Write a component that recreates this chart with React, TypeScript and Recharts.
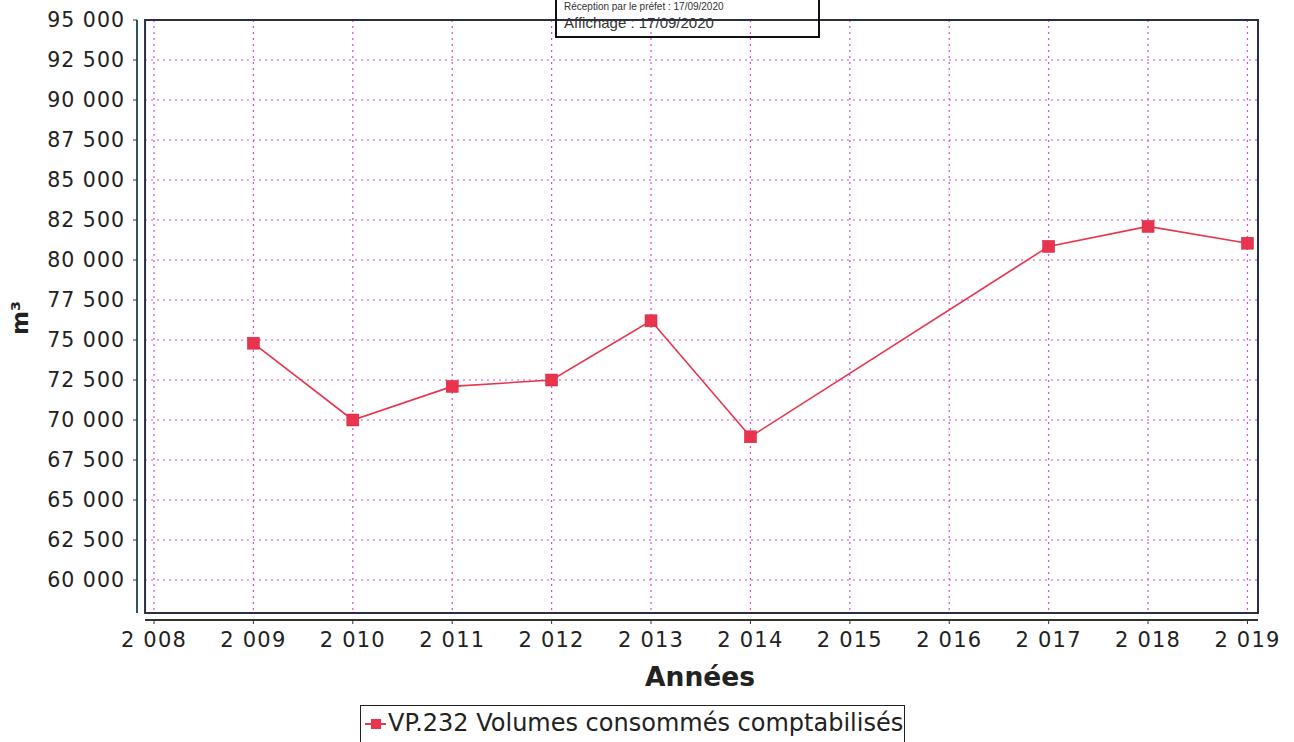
import React from 'react';
import {
  LineChart, Line, XAxis, YAxis, CartesianGrid, ReferenceArea, ReferenceLine,
} from 'recharts';

// values (2015 and 2016 are missing in the source)
const years = [2009, 2010, 2011, 2012, 2013, 2014, 2017, 2018, 2019];
const volumes = [74800, 70000, 72100, 72500, 76200, 68950, 80850, 82100, 81050];

const xTicks = [2008, 2009, 2010, 2011, 2012, 2013, 2014, 2015, 2016, 2017, 2018, 2019];
const yTicks = [60000, 62500, 65000, 67500, 70000, 72500, 75000, 77500, 80000, 82500, 85000, 87500, 90000, 92500, 95000];

const SERIES_NAME = 'VP.232 Volumes consommés comptabilisés';

const data = years.map((y, i) => ({ year: y, volume: volumes[i] }));

const X_DOMAIN: [number, number] = [2007.829, 2019.106];
const Y_DOMAIN: [number, number] = [57500, 95000];
const FRAME_X = 2007.91;
const FRAME_Y = 57940;

const FONT = '"DejaVu Sans", sans-serif';
const RED = '#e8344c';
const GRID = '#d24fd2';

// thousands with a plain space, like "95 000" or "2 008"
const fmt = (v: number) => String(v).replace(/\B(?=(\d{3})+(?!\d))/g, ' ');

const SquareDot = (props: any) => {
  const { cx, cy, index } = props;
  if (cx == null || cy == null) return null;
  return <rect key={`dot-${index}`} x={cx - 6} y={cy - 6} width={12} height={12} fill={RED} stroke="#d02040" strokeWidth={0.5} />;
};

const hLine = (p: any) => (
  <line key={p.key} x1={p.x1 + 8} x2={p.x2} y1={p.y1} y2={p.y2} stroke={GRID} strokeWidth={1.2} strokeDasharray="2 4" />
);
const vLine = (p: any) => (
  <line key={p.key} x1={p.x1} x2={p.x2} y1={p.y1} y2={p.y2 - 7} stroke={GRID} strokeWidth={1.2} strokeDasharray="2 4" />
);

export default function App() {
  return (
    <div style={{ position: 'absolute', left: 0, top: 0, width: 1294, height: 742, background: '#fff', overflow: 'hidden', fontFamily: FONT }}>
      <LineChart width={1294} height={742} data={data} margin={{ top: 20, right: 36, bottom: 82, left: 7 }}>
        <CartesianGrid horizontal={hLine} vertical={vLine} />
        <XAxis
          dataKey="year"
          type="number"
          domain={X_DOMAIN}
          allowDataOverflow
          ticks={xTicks}
          tickFormatter={fmt}
          axisLine={false}
          tickLine={{ stroke: '#333' }}
          tickSize={4}
          tickMargin={8}
          height={40}
          tick={{ fontSize: 21, fill: '#222', fontFamily: FONT, letterSpacing: 1.2 }}
        />
        <YAxis
          type="number"
          domain={Y_DOMAIN}
          allowDataOverflow
          ticks={yTicks}
          tickFormatter={fmt}
          axisLine={false}
          tickLine={{ stroke: '#333' }}
          tickSize={4}
          tickMargin={8}
          width={130}
          tick={{ fontSize: 20.5, fill: '#222', fontFamily: FONT, letterSpacing: 1 }}
        />
        <ReferenceArea x1={FRAME_X} x2={X_DOMAIN[1]} y1={FRAME_Y} y2={Y_DOMAIN[1]} fill="none" stroke="#2a2f45" strokeWidth={2} ifOverflow="visible" />
        <ReferenceLine segment={[{ x: X_DOMAIN[0], y: FRAME_Y }, { x: X_DOMAIN[0], y: Y_DOMAIN[1] }]} stroke="#2d5566" strokeWidth={2} ifOverflow="visible" />
        <ReferenceLine segment={[{ x: FRAME_X, y: Y_DOMAIN[0] }, { x: X_DOMAIN[1], y: Y_DOMAIN[0] }]} stroke="#333" strokeWidth={2} ifOverflow="visible" />
        <Line
          type="linear"
          dataKey="volume"
          name={SERIES_NAME}
          stroke={RED}
          strokeWidth={1.6}
          dot={SquareDot}
          activeDot={false}
          isAnimationActive={false}
        />
      </LineChart>

      {/* axis titles */}
      <div style={{ position: 'absolute', left: 20, top: 318, transform: 'translate(-50%, -50%) rotate(-90deg)', fontSize: 23, fontWeight: 'bold', color: '#222' }}>
        m³
      </div>
      <div style={{ position: 'absolute', left: 700, top: 676, transform: 'translate(-50%, -50%)', fontSize: 26.5, fontWeight: 'bold', color: '#222', whiteSpace: 'nowrap' }}>
        Années
      </div>

      {/* legend */}
      <div style={{ position: 'absolute', left: 360, top: 705, width: 545, height: 50, border: '1.5px solid #222', boxSizing: 'border-box', display: 'flex', alignItems: 'flex-start', paddingTop: 2 }}>
        <svg width={24} height={30} style={{ marginLeft: 3 }}>
          <line x1={1} x2={22} y1={16} y2={16} stroke={RED} strokeWidth={2} />
          <rect x={7} y={11} width={10} height={10} fill={RED} />
        </svg>
        <span style={{ fontSize: 24, color: '#222', lineHeight: '30px', whiteSpace: 'nowrap' }}>{SERIES_NAME}</span>
      </div>

      {/* stamp overlaid on the scan */}
      <div style={{ position: 'absolute', left: 555, top: -2, width: 265, height: 40, border: '2px solid #111', boxSizing: 'border-box', fontFamily: '"Liberation Sans", Arial, sans-serif', color: '#333', padding: '1px 0 0 7px' }}>
        <div style={{ fontSize: 10, lineHeight: '12px', whiteSpace: 'nowrap' }}>Réception par le préfet : 17/09/2020</div>
        <div style={{ fontSize: 15, lineHeight: '20px', whiteSpace: 'nowrap' }}>Affichage : 17/09/2020</div>
      </div>
    </div>
  );
}
